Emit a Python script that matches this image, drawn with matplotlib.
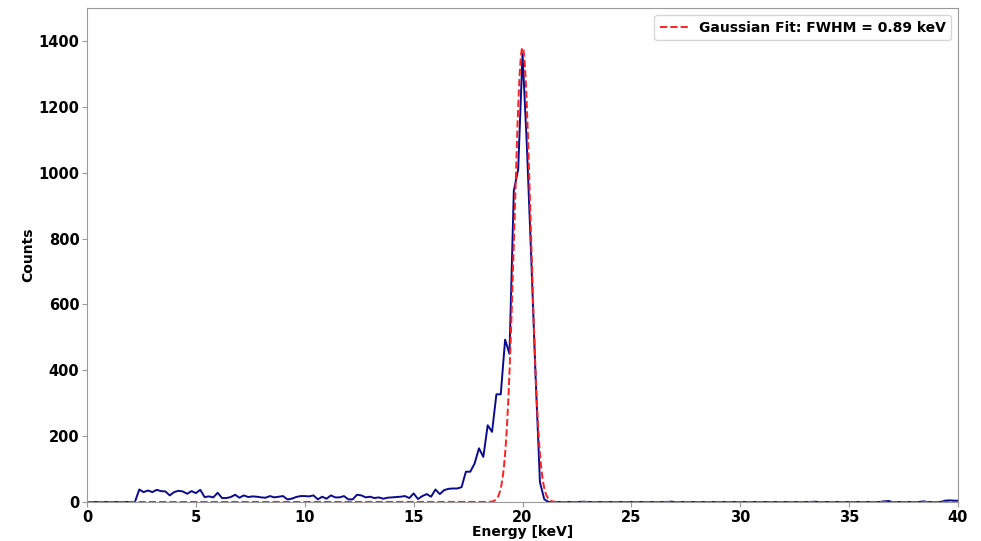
import numpy as np
import matplotlib
matplotlib.use("Agg")
import matplotlib.pyplot as plt

# spectrum, 0.2 keV bins from 0 to 40 keV
energy = np.round(np.arange(0, 201) * 0.2, 1)

counts = [
    0, 0, 0, 0, 0, 0, 0, 0, 0, 0,                      # 0.0 - 1.8
    0, 0, 38, 30, 35, 30, 37, 33, 32, 20,              # 2.0 - 3.8
    30, 34, 32, 25, 33, 27, 37, 15, 17, 14,            # 4.0 - 5.8
    28, 12, 12, 15, 22, 13, 20, 15, 17, 16,            # 6.0 - 7.8
    14, 13, 18, 14, 16, 18, 8, 10, 15, 18,             # 8.0 - 9.8
    18, 17, 20, 8, 16, 10, 20, 14, 14, 18,             # 10.0 - 11.8
    8, 8, 22, 20, 14, 16, 12, 14, 10, 13,              # 12.0 - 13.8
    14, 15, 16, 18, 12, 26, 9, 18, 24, 16,             # 14.0 - 15.8
    38, 24, 36, 40, 41, 41, 45, 92, 92, 117,           # 16.0 - 17.8
    163, 137, 233, 213, 327, 327, 493, 450, 945, 1010,  # 18.0 - 19.8
    1362, 1080, 740, 380, 60, 8, 0, 0, 0, 0,           # 20.0 - 21.8
    0, 0, 0, 0, 1, 0, 0, 0, 0, 0,                      # 22.0 - 23.8
    0, 0, 0, 0, 0, 0, 0, 0, 0, 0,                      # 24.0 - 25.8
    0, 0, 0, 0, 1, 0, 0, 0, 0, 0,                      # 26.0 - 27.8
    0, 0, 0, 0, 0, 0, 0, 0, 0, 0,                      # 28.0 - 29.8
    0, 0, 0, 0, 0, 0, 0, 0, 0, 0,                      # 30.0 - 31.8
    0, 0, 0, 0, 0, 0, 0, 1, 0, 0,                      # 32.0 - 33.8
    0, 0, 0, 0, 0, 0, 0, 0, 0, 0,                      # 34.0 - 35.8
    0, 0, 0, 2, 3, 0, 0, 0, 0, 0,                      # 36.0 - 37.8
    0, 0, 2, 0, 0, 0, 0, 4, 5, 4,                      # 38.0 - 39.8
    4,                                                 # 40.0
]

# gaussian fit parameters
fit_amp = 1380
fit_mu = 20.0
fit_fwhm = 0.89
fit_sigma = fit_fwhm / 2.3548

x_fit = np.linspace(0, 40, 2000)
y_fit = fit_amp * np.exp(-(x_fit - fit_mu) ** 2 / (2 * fit_sigma ** 2))

fig = plt.figure(figsize=(9.81, 5.41), dpi=100)
ax = fig.add_axes([0.0887, 0.0721, 0.8879, 0.9131])

ax.plot(energy, counts, color="#0a0a8c", linewidth=1.4)
ax.plot(x_fit, y_fit, color="#ff2020", linestyle="--", linewidth=1.4,
        label="Gaussian Fit: FWHM = %.2f keV" % fit_fwhm)

ax.set_xlim(0, 40)
ax.set_ylim(0, 1500)
ax.set_xlabel("Energy [keV]", fontsize=10, fontweight="bold", labelpad=0)
ax.set_ylabel("Counts", fontsize=10, fontweight="bold", labelpad=2)

for s in ax.spines.values():
    s.set_color("#999999")
ax.tick_params(colors="#999999", labelcolor="black", labelsize=10.5, pad=2)
for lab in ax.get_xticklabels() + ax.get_yticklabels():
    lab.set_fontweight("bold")

leg = ax.legend(loc="upper right", prop={"weight": "bold", "size": 10})

fig.savefig("out.png", dpi=100)
